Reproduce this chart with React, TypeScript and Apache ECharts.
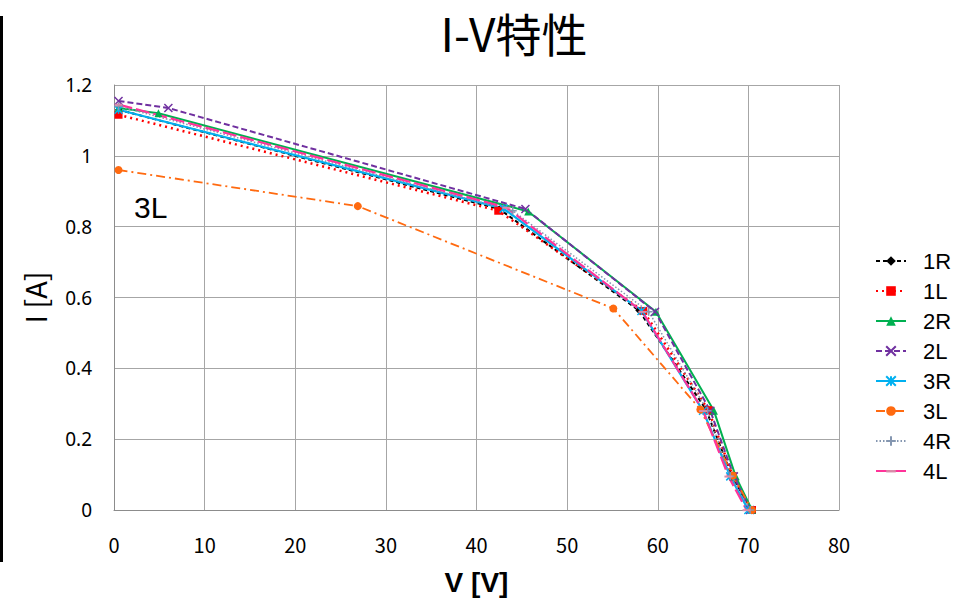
import React, { useEffect, useRef } from "react";
import * as echarts from "echarts";

const xTicks = [0, 10, 20, 30, 40, 50, 60, 70, 80];
const yTicks = [0, 0.2, 0.4, 0.6, 0.8, 1, 1.2];

const seriesNames = ["1R", "1L", "2R", "2L", "3R", "3L", "4R", "4L"];

const v1R = [0.5, 42.5, 57.9, 65.3, 68.2, 70.3];
const i1R = [1.13, 0.85, 0.564, 0.285, 0.095, 0];
const v1L = [0.5, 42.4, 58.4, 65.6, 68.3, 70.4];
const i1L = [1.116, 0.845, 0.562, 0.282, 0.095, 0];
const v2R = [0.5, 4.9, 45.7, 59.8, 66.2, 68.6, 70.4];
const i2R = [1.135, 1.12, 0.843, 0.56, 0.28, 0.095, 0];
const v2L = [0.5, 6.0, 45.4, 59.7, 65.8, 68.4, 70.2];
const i2L = [1.155, 1.135, 0.85, 0.56, 0.28, 0.095, 0];
const v3R = [0.5, 43.0, 58.2, 65.0, 68.0, 70.0];
const i3R = [1.13, 0.851, 0.562, 0.28, 0.095, 0];
const v3L = [0.5, 26.9, 55.1, 64.7, 68.3, 70.4];
const i3L = [0.96, 0.858, 0.569, 0.284, 0.097, 0];
const v4R = [0.5, 44.0, 59.0, 65.5, 68.0, 70.2];
const i4R = [1.14, 0.845, 0.56, 0.28, 0.095, 0];
const v4L = [0.5, 43.3, 58.3, 65.0, 67.8, 69.8];
const i4L = [1.145, 0.854, 0.56, 0.28, 0.095, 0];

const allV = [v1R, v1L, v2R, v2L, v3R, v3L, v4R, v4L];
const allI = [i1R, i1L, i2R, i2L, i3R, i3L, i4R, i4L];

const colors = ["#000000", "#ff0000", "#00b050", "#7030a0", "#00b0f0", "#ff6a10", "#8496b0", "#ff3399"];
const markerColors = ["#000000", "#ff0000", "#00b050", "#7030a0", "#00b0f0", "#ff6a10", "#8496b0", "#d88aa8"];
const lineTypes: any[] = [
  [4, 3],
  [2, 4],
  "solid",
  [6, 3],
  "solid",
  [9, 4, 2, 4],
  [1.5, 2],
  [14, 4],
];
const lineWidths = [2, 2.5, 2, 2, 2.2, 1.8, 1.5, 2.2];
const symbols = [
  "diamond",
  "rect",
  "triangle",
  "path://M0,0L10,10M10,0L0,10",
  "path://M0,0L10,10M10,0L0,10M5,0L5,10",
  "circle",
  "path://M5,0L5,10M0,5L10,5",
  "path://M0,0M0,4L10,4L10,6.5L0,6.5ZM10,10",
];
const symbolSizes: any[] = [7, 8, 8, 8, 8, 8, 8, 8];

export default function App() {
  const ref = useRef<HTMLDivElement>(null);
  useEffect(() => {
    if (!ref.current) return;
    const chart = echarts.init(ref.current, null, { renderer: "svg" });
    const series = seriesNames.map((name, k) => {
      const isStroke = symbols[k].startsWith("path") && k !== 7;
      return {
        name,
        type: "line",
        data: allV[k].map((v, j) => [v, allI[k][j]]),
        symbol: symbols[k],
        symbolSize: symbolSizes[k],
        symbolKeepAspect: true,
        showAllSymbol: true,
        lineStyle: { color: colors[k], width: lineWidths[k], type: lineTypes[k] },
        itemStyle: {
          color: markerColors[k],
          borderColor: markerColors[k],
          borderWidth: isStroke ? 1.5 : 0,
        },
        emphasis: { disabled: true },
      };
    });
    chart.setOption({
      animation: false,
      backgroundColor: "#ffffff",
      title: {
        text: "I-V特性",
        left: 509,
        textAlign: "center",
        top: 4,
        textStyle: {
          fontFamily: "Noto Sans CJK JP",
          fontSize: 46,
          fontWeight: "normal",
          color: "#000",
        },
      },
      grid: { left: 114, right: 128, top: 85, bottom: 88 },
      legend: {
        orient: "vertical",
        left: 870,
        top: 245,
        itemWidth: 30,
        itemHeight: 12,
        itemGap: 8,
        data: seriesNames,
        textStyle: {
          fontFamily: "Liberation Sans",
          fontSize: 22,
          lineHeight: 22,
          color: "#000",
          padding: [0, 0, 0, 12],
        },
      },
      xAxis: {
        type: "value",
        min: xTicks[0],
        max: xTicks[xTicks.length - 1],
        interval: 10,
        name: "V [V]",
        nameLocation: "middle",
        nameGap: 58,
        nameTextStyle: {
          fontFamily: "Liberation Sans Narrow, Liberation Sans",
          fontWeight: "bold",
          fontSize: 28,
          color: "#000",
        },
        axisLine: { show: true, lineStyle: { color: "#8c8c8c", width: 1 } },
        axisTick: { show: false },
        axisLabel: {
          margin: 24,
          fontFamily: "Liberation Sans Narrow, Noto Sans CJK JP",
          fontSize: 20,
          color: "#000",
        },
        splitLine: { show: true, lineStyle: { color: "#a6a6a6", width: 1 } },
      },
      yAxis: {
        type: "value",
        min: yTicks[0],
        max: yTicks[yTicks.length - 1],
        interval: 0.2,
        name: "I [A]",
        nameLocation: "middle",
        nameGap: 66,
        nameTextStyle: {
          fontFamily: "Noto Sans CJK JP",
          fontSize: 29,
          color: "#000",
        },
        axisLine: { show: true, lineStyle: { color: "#8c8c8c", width: 1 } },
        axisTick: { show: false },
        axisLabel: {
          margin: 22,
          fontFamily: "Noto Sans",
          fontSize: 19,
          color: "#000",
        },
        splitLine: { show: true, lineStyle: { color: "#a6a6a6", width: 1 } },
      },
      graphic: [
        {
          type: "rect",
          left: 0,
          top: 16,
          shape: { width: 3, height: 546 },
          style: { fill: "#000" },
          silent: true,
        },
        {
          type: "text",
          left: 134,
          top: 192,
          style: {
            text: "3L",
            fontFamily: "Liberation Sans",
            fontSize: 30,
            fill: "#000",
          },
          silent: true,
        },
      ],
      series,
    });
    return () => chart.dispose();
  }, []);
  return (
    <div
      ref={ref}
      style={{ position: "fixed", left: 0, top: 0, width: 967, height: 601, background: "#fff" }}
    />
  );
}
